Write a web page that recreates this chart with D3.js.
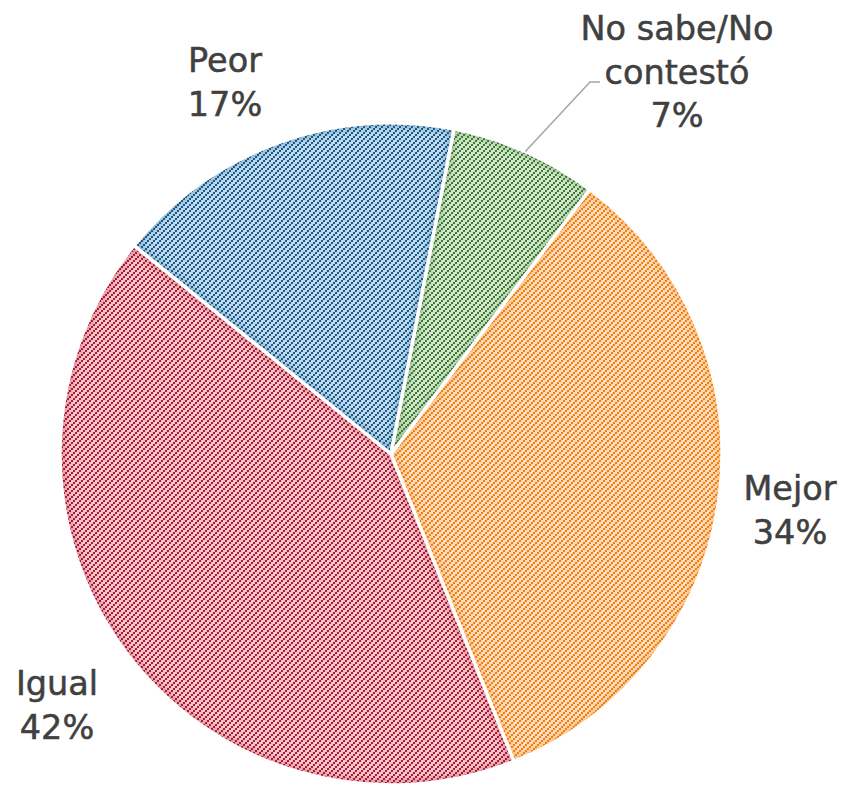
<!DOCTYPE html>
<html>
<head>
<meta charset="utf-8">
<script src="https://cdn.jsdelivr.net/npm/d3@7"></script>
<style>
  body { margin: 0; background: #fff; }
  svg { display: block; }
</style>
</head>
<body>
<div id="chart"></div>
<script>
// Data
const categories = ["Mejor", "Igual", "Peor", "No sabe/No contestó"];
const values = [33.7, 41.9, 17.2, 7.2];
const labelLines = [["Mejor"], ["Igual"], ["Peor"], ["No sabe/No", "contestó"]];

const darkColors = ["#f57f0a", "#ad1a30", "#1b5a86", "#3f7b37"];
const lightColors = ["#fddcc0", "#f3c6cd", "#c0dbf0", "#d3e7cc"];

const width = 848, height = 786;
const cx = 391, cy = 454, radius = 331;

const svg = d3.select("#chart").append("svg")
  .attr("width", width)
  .attr("height", height);

const defs = svg.append("defs");

// pixel hatch (upward diagonal of 2x2 blocks)
categories.forEach((c, i) => {
  const p = defs.append("pattern")
    .attr("id", "hatch" + i)
    .attr("patternUnits", "userSpaceOnUse")
    .attr("width", 6)
    .attr("height", 6);
  p.append("rect")
    .attr("width", 6).attr("height", 6)
    .attr("fill", lightColors[i]);
  [[0, 4], [2, 2], [4, 0]].forEach(([x, y]) => {
    p.append("rect")
      .attr("x", x).attr("y", y)
      .attr("width", 2).attr("height", 2)
      .attr("shape-rendering", "crispEdges")
      .attr("fill", darkColors[i]);
  });
});

// soft inner edge
const blur = defs.append("filter").attr("id", "soft");
blur.append("feGaussianBlur").attr("stdDeviation", 3);

const start = 36.9 * Math.PI / 180;
const pie = d3.pie()
  .sort(null)
  .value(d => d)
  .startAngle(start)
  .endAngle(start + 2 * Math.PI);

const arc = d3.arc().innerRadius(0).outerRadius(radius);

const arcs = pie(values);

const g = svg.append("g").attr("transform", `translate(${cx},${cy})`);

arcs.forEach((d, i) => {
  defs.append("clipPath").attr("id", "clip" + i)
    .append("path").attr("d", arc(d));
});

const slices = g.selectAll("g.slice")
  .data(arcs)
  .join("g")
  .attr("class", "slice");

slices.append("path")
  .attr("d", arc)
  .attr("fill", (d, i) => `url(#hatch${i})`);

// darker rim inside each slice
slices.append("path")
  .attr("d", arc)
  .attr("fill", "none")
  .attr("stroke", (d, i) => darkColors[i])
  .attr("stroke-opacity", 0.35)
  .attr("stroke-width", 8)
  .attr("filter", "url(#soft)")
  .attr("clip-path", (d, i) => `url(#clip${i})`);

// white separators
slices.append("path")
  .attr("d", arc)
  .attr("fill", "none")
  .attr("stroke", "#fff")
  .attr("stroke-width", 3.5)
  .attr("stroke-linejoin", "round");

// labels
const labelPos = [[790, 500], [57, 695], [225, 72], [677, 40]];
const lineH = 43.5;

labelLines.forEach((lines, i) => {
  const t = svg.append("text")
    .attr("x", labelPos[i][0])
    .attr("y", labelPos[i][1])
    .attr("text-anchor", "middle")
    .style("font-family", "'DejaVu Sans', sans-serif")
    .style("font-size", "33.5px")
    .style("fill", "#404040")
    .style("stroke", "#404040")
    .style("stroke-width", 0.5);
  lines.concat([Math.round(values[i]) + "%"]).forEach((l, j) => {
    t.append("tspan")
      .attr("x", labelPos[i][0])
      .attr("dy", j === 0 ? 0 : lineH)
      .text(l);
  });
});

// leader line for small slice
const small = arcs[3];
const mid = (small.startAngle + small.endAngle) / 2;
const sx = cx + radius * Math.sin(mid), sy = cy - radius * Math.cos(mid);
svg.append("polyline")
  .attr("points", `${sx},${sy} 590,82 600,82`)
  .attr("fill", "none")
  .attr("stroke", "#a6a6a6")
  .attr("stroke-width", 1.5);
</script>
</body>
</html>
